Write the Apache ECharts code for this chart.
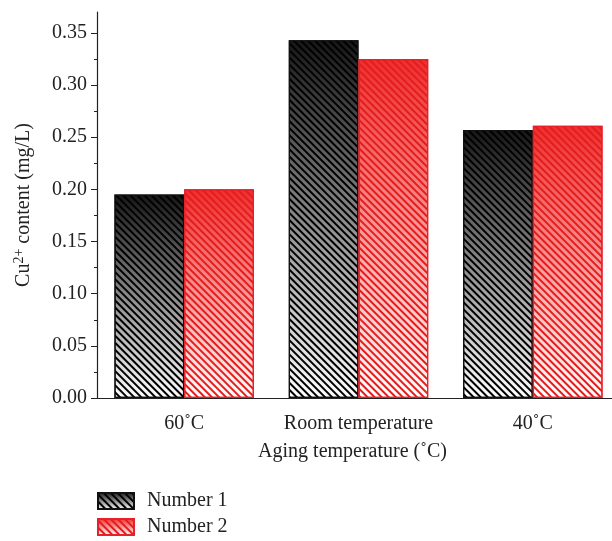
<!DOCTYPE html>
<html>
<head>
<meta charset="utf-8">
<script src="https://cdn.jsdelivr.net/npm/echarts@6/dist/echarts.min.js"></script>
<style>
  html, body { margin: 0; padding: 0; background: #fff; overflow: hidden; }
  #chart { width: 620px; height: 541px; }
</style>
</head>
<body>
<div id="chart"></div>
<script>
const categories = ["60˚C", "Room temperature", "40˚C"];
const number1 = [0.195, 0.343, 0.257];
const number2 = [0.200, 0.325, 0.261];
const yTicks = [0, 0.05, 0.1, 0.15, 0.2, 0.25, 0.3, 0.35];

const font = "Liberation Serif";

const fill = (top) =>
  new echarts.graphic.LinearGradient(0, 0, 0, 1, [
    { offset: 0, color: top },
    { offset: 1, color: "#ffffff" },
  ]);

const hatch = (color) => ({
  color: color,
  dashArrayX: [1, 0],
  dashArrayY: [1.6, 2.2],
  rotation: Math.PI / 4,
});

const myChart = echarts.init(document.getElementById("chart"));
myChart.setOption({
  animation: false,
  textStyle: { fontFamily: font },
  grid: { left: 97, right: 0, top: 12, bottom: 143 },
  legend: {
    orient: "vertical",
    left: 97,
    top: 491,
    padding: 0,
    icon: "rect",
    itemWidth: 36,
    itemHeight: 16,
    itemGap: 6,
    textStyle: { fontFamily: font, fontSize: 20, color: "#222", padding: [0, 0, 0, 8] },
    data: ["Number 1", "Number 2"],
  },
  xAxis: {
    type: "category",
    data: categories,
    name: "Aging temperature (˚C)",
    nameLocation: "middle",
    nameGap: 44,
    nameTextStyle: { fontFamily: font, fontSize: 20, color: "#222", padding: [0, 12, 0, 0] },
    axisLine: { lineStyle: { color: "#222", width: 1.2 } },
    axisTick: { alignWithLabel: true, length: 6, lineStyle: { color: "#222" } },
    axisLabel: {
      interval: 0,
      fontFamily: font,
      fontSize: 20,
      color: "#222",
      margin: 16,
      formatter: (v) => (v.indexOf("˚") < 0 ? "{up|" + v + "}" : v),
      rich: {
        up: { fontFamily: font, fontSize: 20, color: "#222", padding: [0, 0, 12, 0] },
      },
    },
  },
  yAxis: {
    type: "value",
    min: 0,
    max: 0.37,
    interval: 0.05,
    name: "{n|Cu}{s|2+}{n| content (mg/L)}",
    nameLocation: "middle",
    nameGap: 62,
    nameRotate: 90,
    nameTextStyle: {
      rich: {
        n: { fontFamily: font, fontSize: 20, color: "#222" },
        s: { fontFamily: font, fontSize: 14, color: "#222", verticalAlign: "top", padding: [0, 0, 9, 0] },
      },
    },
    splitLine: { show: false },
    axisLine: { show: true, lineStyle: { color: "#222", width: 1.2 } },
    axisTick: {
      show: true,
      inside: false,
      length: 6,
      customValues: yTicks,
      lineStyle: { color: "#222" },
    },
    minorTick: { show: true, splitNumber: 2, length: 3, lineStyle: { color: "#222" } },
    axisLabel: {
      fontFamily: font,
      fontSize: 20,
      color: "#222",
      margin: 10,
      customValues: yTicks,
      formatter: (v) => v.toFixed(2),
    },
  },
  series: [
    {
      name: "Number 1",
      type: "bar",
      data: number1,
      barWidth: "40%",
      barGap: "0%",
      itemStyle: {
        color: fill("#161616"),
        borderColor: "#111",
        borderWidth: 1.2,
        decal: hatch("#000"),
      },
    },
    {
      name: "Number 2",
      type: "bar",
      data: number2,
      barWidth: "40%",
      itemStyle: {
        color: fill("#ef2e2e"),
        borderColor: "#e8202a",
        borderWidth: 1.2,
        decal: hatch("#e51c1c"),
      },
    },
  ],
});
</script>
</body>
</html>
